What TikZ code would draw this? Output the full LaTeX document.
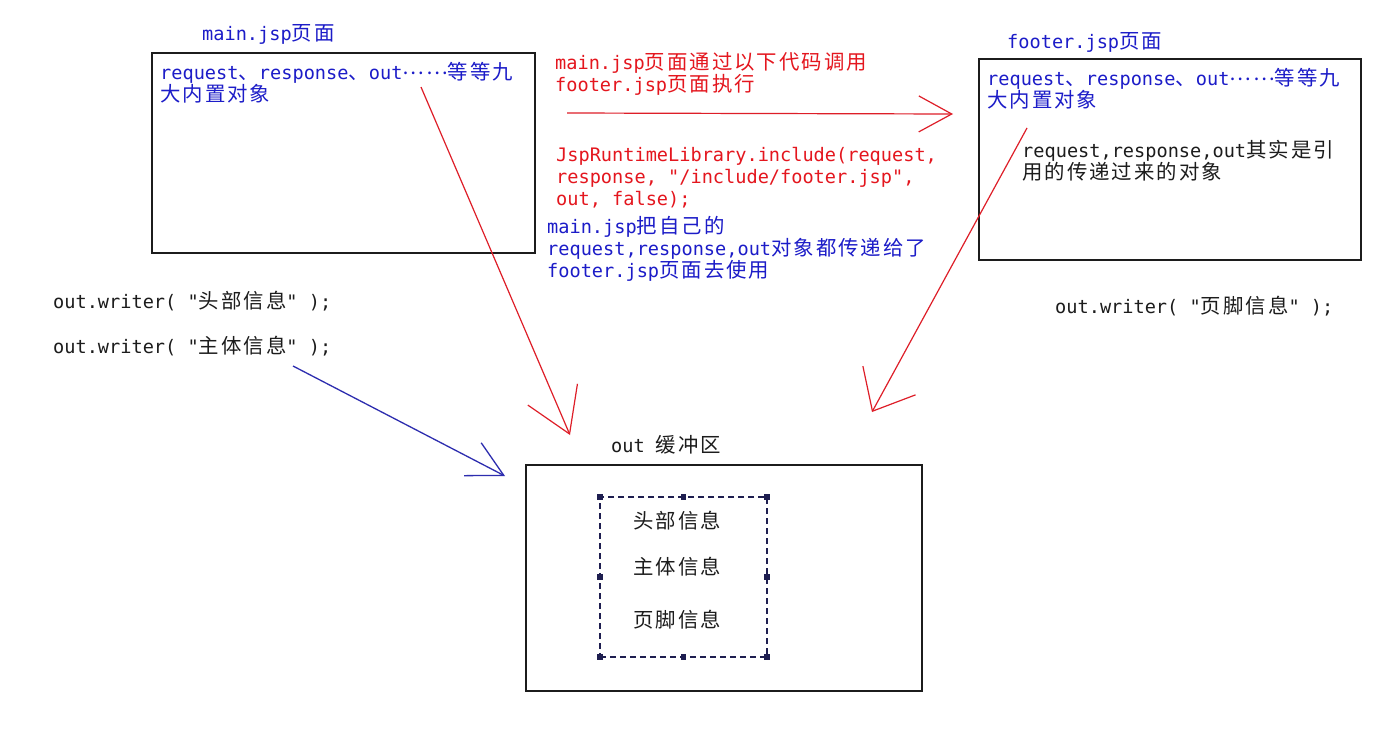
\documentclass[tikz,border=0pt]{standalone}
\usepackage{fontspec}
\setmonofont{DejaVu Sans Mono}
\newfontfamily\cjkf[LetterSpace=10]{Noto Sans CJK SC}
\usetikzlibrary{arrows.meta}
\newcommand\C[1]{{\cjkf\fontsize{20.4}{22}\selectfont #1}}
\newcommand\ST{\rule{0pt}{17pt}}
\newcommand\DOTS{\raisebox{4.5pt}{\C{……}}}
\definecolor{tblue}{RGB}{28,28,200}
\definecolor{tred}{RGB}{228,22,30}
\definecolor{lred}{RGB}{222,30,40}
\definecolor{lblue}{RGB}{45,45,175}
\definecolor{tblack}{RGB}{28,28,28}
\definecolor{navy}{RGB}{30,30,80}
\begin{document}
\begin{tikzpicture}[x=1pt,y=-1pt,
  every node/.style={font=\ttfamily\fontsize{18.6}{22}\selectfont},
  lbl/.style={inner sep=0pt, anchor=base west},
  txt/.style={inner sep=0pt, anchor=north west, align=left},
  frame/.style={draw=tblack, line width=1.5pt, inner sep=0pt, outer sep=0pt, anchor=north west},
  redarrow/.style={draw=lred, line width=1.2pt},
  bluearrow/.style={draw=lblue, line width=1.3pt}]
\fill[white] (0,0) rectangle (1395,747);
\useasboundingbox (0,0) rectangle (1395,747);

% main.jsp
\node[lbl, text=tblue] (mainT) at (202,40) {main.jsp\C{页面}};
\node[frame, minimum width=383pt, minimum height=200pt] (mainBox) at (152,53) {};
\node[txt, text=tblue] (mainObj) at (160,62) {\ST request\C{、}response\C{、}out\DOTS\C{等等九}\\\C{大内置对象}};

% middle texts
\node[txt, text=tred] (callT) at (555,52) {\ST main.jsp\C{页面通过以下代码调用}\\footer.jsp\C{页面执行}};
\node[txt, text=tred] (codeT) at (556,144) {\ST JspRuntimeLibrary.include(request,\\response, "/include/footer.jsp",\\out, false);};
\node[txt, text=tblue] (passT) at (547,216) {\ST main.jsp\C{把自己的}\\request,response,out\C{对象都传递给了}\\footer.jsp\C{页面去使用}};

% footer.jsp
\node[lbl, text=tblue] (footT) at (1007,48) {footer.jsp\C{页面}};
\node[frame, minimum width=382pt, minimum height=201pt] (footBox) at (979,59) {};
\node[txt, text=tblue] (footObj) at (987,68) {\ST request\C{、}response\C{、}out\DOTS\C{等等九}\\\C{大内置对象}};
\node[txt, text=tblack] (refT) at (1022,140) {\ST request,response,out\C{其实是引}\\\C{用的传递过来的对象}};
\node[lbl, text=tblack] (footW) at (1055,313) {out.writer( "\C{页脚信息}" );};

% left writes
\node[lbl, text=tblack] (headW) at (53,308) {out.writer( "\C{头部信息}" );};
\node[lbl, text=tblack] (bodyW) at (53,353) {out.writer( "\C{主体信息}" );};

% buffer
\node[lbl, text=tblack] (bufT) at (611,452) {out \C{缓冲区}};
\node[frame, minimum width=396pt, minimum height=226pt] (bufBox) at (526,465) {};
\node[draw=navy, line width=1.2pt, dash pattern=on 6pt off 4pt, inner sep=0pt, outer sep=0pt, anchor=north west, minimum width=167pt, minimum height=160pt] (buf) at (600,497) {};
\foreach \a in {north west,north,north east,east,south east,south,south west,west}
  \fill[navy] (buf.\a) ++(-2.6,-2.6) rectangle ++(5.2,5.2);
\node[lbl, text=tblack] (l1) at (633,528) {\C{头部信息}};
\node[lbl, text=tblack] (l2) at (633,574) {\C{主体信息}};
\node[lbl, text=tblack] (l3) at (633,627) {\C{页脚信息}};

% arrows
\coordinate (h1) at (567,113);
\coordinate (h2) at (953,114);
\draw[redarrow, -{Straight Barb[length=33pt,width=36pt]}] (h1) -- (h2);
\coordinate (r1s) at (421,87);
\coordinate (r1e) at (570,435);
\draw[redarrow, -{Straight Barb[length=43pt,width=54pt]}] (r1s) -- (r1e);
\coordinate (r2s) at (1027,128);
\coordinate (r2e) at (872,412);
\draw[redarrow, -{Straight Barb[length=35pt,width=60pt]}] (r2s) -- (r2e);
\coordinate (b1s) at (293,366);
\coordinate (b1e) at (505,476);
\draw[bluearrow, -{Straight Barb[length=35pt,width=37pt]}] (b1s) -- (b1e);
\end{tikzpicture}
\end{document}
